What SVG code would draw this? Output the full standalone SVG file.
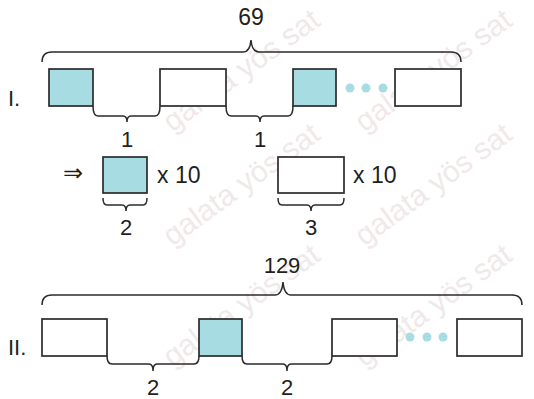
<svg xmlns="http://www.w3.org/2000/svg" width="534" height="399" viewBox="0 0 534 399">
<style>
.bg{fill:#ffffff}
.wm{font-family:"Liberation Sans",Arial,sans-serif;font-size:30px;fill:#f0e9e9;text-anchor:end}
.box{stroke:#2b2b2b;stroke-width:1.7}
.blue{fill:#a8dce3}
.white{fill:#ffffff}
.br{fill:none;stroke:#2b2b2b;stroke-width:1.5}
.t{font-family:"Liberation Sans",Arial,sans-serif;font-size:22px;fill:#231f20}
.c{text-anchor:middle}
.dot{fill:#a8dce3}
</style>
<rect class="bg" x="0" y="0" width="534" height="399"/>
<g id="watermarks">
<text class="wm" transform="translate(322,24) rotate(-36)">galata yös sat</text>
<text class="wm" transform="translate(514,24) rotate(-36)">galata yös sat</text>
<text class="wm" transform="translate(322,138) rotate(-36)">galata yös sat</text>
<text class="wm" transform="translate(514,138) rotate(-36)">galata yös sat</text>
<text class="wm" transform="translate(322,259) rotate(-36)">galata yös sat</text>
<text class="wm" transform="translate(514,259) rotate(-36)">galata yös sat</text>
</g>
<g id="connectors">
<path class="br" d="M42,62 Q42,52 52,52 H243 Q250,52 251,40 Q252,52 259,52 H451 Q461,52 461,62"/>
<path class="br" d="M93,106 Q93,116 98,116 H123 Q127,116 127,122 Q127,116 131,116 H155 Q160,116 160,106"/>
<path class="br" d="M226,106 Q226,116 231,116 H256 Q260,116 260,122 Q260,116 264,116 H288 Q293,116 293,106"/>
<path class="br" d="M103,198 Q103,205 107,205 H122 Q126,205 126,211 Q126,205 130,205 H143 Q147,205 147,198"/>
<path class="br" d="M278,198 Q278,205 282,205 H307 Q311,205 311,211 Q311,205 315,205 H340 Q344,205 344,198"/>
<path class="br" d="M42,305 Q42,295 52,295 H275 Q282,295 283,282 Q284,295 291,295 H512 Q522,295 522,305"/>
<path class="br" d="M107,356 Q107,364 112,364 H149 Q153,364 153,371 Q153,364 157,364 H194 Q199,364 199,356"/>
<path class="br" d="M242,356 Q242,364 247,364 H283 Q287,364 287,371 Q287,364 291,364 H327 Q332,364 332,356"/>
</g>
<g id="row1">
<text class="t" x="8" y="106">I.</text>
<text class="t c" x="251" y="25" style="font-size:23px">69</text>
<g id="r1b1"><rect class="box blue" x="49" y="69" width="44" height="37"/></g>
<g id="r1b2"><rect class="box white" x="160" y="69" width="66" height="37"/></g>
<g id="r1b3"><rect class="box blue" x="293" y="69" width="43" height="37"/></g>
<g id="r1dots"><circle class="dot" cx="350" cy="88" r="4.5"/><circle class="dot" cx="366" cy="88" r="4.5"/><circle class="dot" cx="383" cy="88" r="4.5"/></g>
<g id="r1b4"><rect class="box white" x="395" y="69" width="66" height="37"/></g>
<text class="t c" x="127" y="147">1</text>
<text class="t c" x="260" y="147">1</text>
</g>
<g id="row2">
<text class="t" x="63" y="181" style="font-family:'DejaVu Sans',sans-serif;font-size:24px;font-weight:200">⇒</text>
<g id="r2b1"><rect class="box blue" x="103" y="157" width="44" height="36"/></g>
<text class="t" x="157" y="183" style="font-size:23px">x 10</text>
<g id="r2b2"><rect class="box white" x="278" y="157" width="66" height="36"/></g>
<text class="t" x="353" y="183" style="font-size:23px">x 10</text>
<text class="t c" x="126" y="235">2</text>
<text class="t c" x="311" y="235">3</text>
</g>
<g id="row3">
<text class="t" x="8" y="355">II.</text>
<text class="t c" x="282" y="273">129</text>
<g id="r3b1"><rect class="box white" x="42" y="319" width="65" height="37"/></g>
<g id="r3b2"><rect class="box blue" x="199" y="319" width="43" height="37"/></g>
<g id="r3b3"><rect class="box white" x="332" y="319" width="65" height="37"/></g>
<g id="r3dots"><circle class="dot" cx="410" cy="337" r="4.5"/><circle class="dot" cx="427" cy="337" r="4.5"/><circle class="dot" cx="443" cy="337" r="4.5"/></g>
<g id="r3b4"><rect class="box white" x="457" y="319" width="65" height="37"/></g>
<text class="t c" x="153" y="395">2</text>
<text class="t c" x="287" y="395">2</text>
</g>
</svg>
